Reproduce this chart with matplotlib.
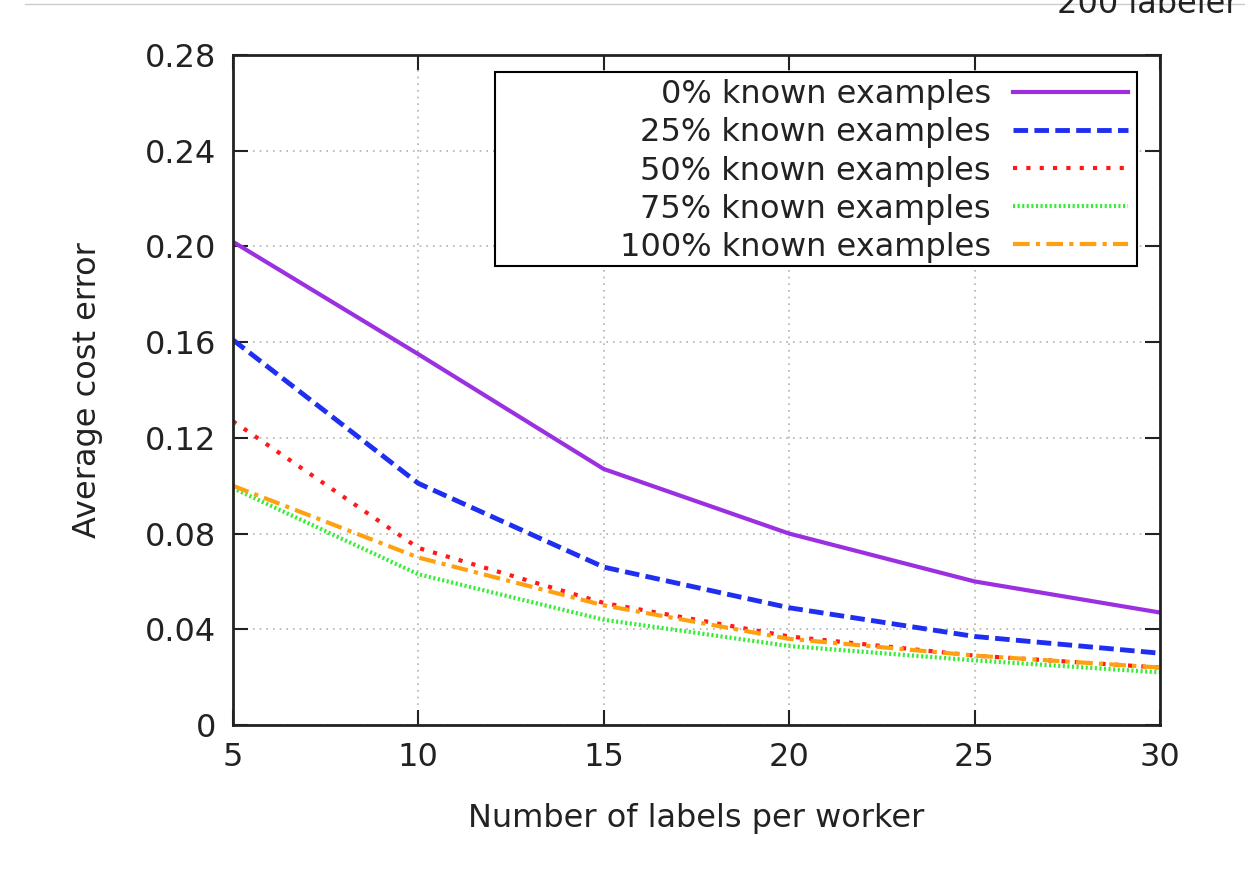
import matplotlib
matplotlib.use('Agg')
import matplotlib.pyplot as plt
from matplotlib.lines import Line2D
from matplotlib.patches import Rectangle

labels_per_worker = [5, 10, 15, 20, 25, 30]
err_0 = [0.202, 0.155, 0.107, 0.080, 0.060, 0.047]
err_25 = [0.161, 0.101, 0.066, 0.049, 0.037, 0.030]
err_50 = [0.127, 0.074, 0.051, 0.037, 0.029, 0.024]
err_75 = [0.099, 0.063, 0.044, 0.033, 0.027, 0.022]
err_100 = [0.100, 0.070, 0.050, 0.036, 0.029, 0.024]

series_names = ['0% known examples', '25% known examples', '50% known examples',
                '75% known examples', '100% known examples']
x_ticks = [5, 10, 15, 20, 25, 30]
y_ticks = [0, 0.04, 0.08, 0.12, 0.16, 0.20, 0.24, 0.28]
y_tick_labels = ['0', '0.04', '0.08', '0.12', '0.16', '0.20', '0.24', '0.28']

plt.rcParams['font.family'] = ['DejaVu Sans']

fig = plt.figure(figsize=(12.45, 8.74), dpi=100)
ax = fig.add_axes([0.187, 0.1705, 0.7447, 0.7665])

ax.plot(labels_per_worker, err_0, color='#9b30e0', lw=3, ls='-', label=series_names[0])
ax.plot(labels_per_worker, err_25, color='#1f2ff0', lw=3.5, ls=(0, (3, 1.3)), label=series_names[1])
ax.plot(labels_per_worker, err_50, color='#ff1a1a', lw=3, ls=(0, (1, 2.2)), label=series_names[2])
ax.plot(labels_per_worker, err_75, color='#33ee33', lw=3, ls=(0, (0.5, 0.6)), label=series_names[3])
ax.plot(labels_per_worker, err_100, color='#ffa010', lw=3, ls=(0, (4, 1.5, 1, 1.5)), label=series_names[4])

ax.set_xlim(5, 30)
ax.set_ylim(0, 0.28)
ax.set_xticks(x_ticks)
ax.set_yticks(y_ticks)
ax.set_yticklabels(y_tick_labels)
ax.tick_params(direction='in', length=11, width=1.5, top=True, right=True,
               labelsize=23, pad=12, colors='#222222')
ax.grid(True, color='#b0b0b0', ls=(0, (1, 3)), lw=1.2)
for s in ax.spines.values():
    s.set_linewidth(2)
    s.set_color('#222222')

ax.set_xlabel('Number of labels per worker', fontsize=23, labelpad=22, color='#222222')
ax.set_ylabel('Average cost error', fontsize=23, labelpad=30, color='#222222')

# legend box drawn by hand, wider than the entries, as gnuplot does
ax.add_patch(Rectangle((0.2826, 0.685), 0.6924, 0.2896, transform=ax.transAxes,
                       facecolor='white', edgecolor='black', lw=1.5, zorder=4))
leg = ax.legend(loc='upper right', bbox_to_anchor=(0.9745, 0.9755), fontsize=23,
                markerfirst=False, frameon=False, handlelength=3.6,
                borderpad=0.25, labelspacing=0.22, handletextpad=0.7,
                borderaxespad=0)
leg.set_zorder(5)
for t in leg.get_texts():
    t.set_ha('right')
    t.set_color('#222222')
leg._legend_box.align = 'right'

fig.add_artist(Line2D([0.02, 1.0], [0.995, 0.995], color='#cccccc', lw=1, transform=fig.transFigure))
fig.text(0.995, 0.985, '200 labeler', ha='right', va='baseline', fontsize=23, color='#222222')

fig.savefig('out.png', dpi=100)
